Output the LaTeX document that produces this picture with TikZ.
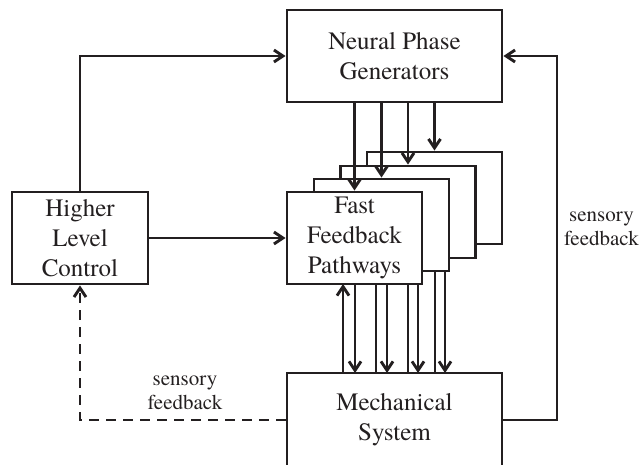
\documentclass[tikz,border=0pt]{standalone}
\usepackage{fontspec}
\setmainfont{TeX Gyre Termes}
\usetikzlibrary{arrows.meta}
\definecolor{ink}{HTML}{231F20}
\begin{document}
\begin{tikzpicture}[x=1pt,y=-1pt,
  line width=2.9pt, draw=ink,
  >={Straight Barb[length=9pt,width=12pt]},
  block/.style={draw=ink, fill=white, line width=2.9pt, inner sep=0pt,
    align=center, text=ink,
    font=\fontsize{25}{30}\selectfont},
  lbl/.style={align=center, text=ink, inner sep=0pt,
    font=\fontsize{21}{24}\selectfont},
  wire/.style={draw=ink, line width=2.9pt}]
\useasboundingbox (0,0) rectangle (641,465);
\clip (0,0) rectangle (641,465);

% main blocks
\node[block, minimum width=215pt, minimum height=92pt] (npg) at (394.5,56)
  {Neural Phase\\Generators};
\node[block, minimum width=136pt, minimum height=92pt] (hlc) at (80,238)
  {Higher\\Level\\Control};
\node[block, minimum width=215pt, minimum height=94pt] (ms) at (394.5,420)
  {Mechanical\\System};

% stacked fast feedback pathways, back to front
\node[block, minimum width=135pt, minimum height=92pt] (ff4) at (434.5,198) {};
\draw[wire] (435,373) -- (435,244);
\draw[wire,->] (445,244) -- (445,373);
\draw[wire,->] (ff4.north |- npg.south) -- (ff4.north);

\node[block, minimum width=135pt, minimum height=92pt] (ff3) at (408,212) {};
\draw[wire] (408,373) -- (408,258);
\draw[wire,->] (418,258) -- (418,373);
\draw[wire,->] (ff3.north |- npg.south) -- (ff3.north);

\node[block, minimum width=135pt, minimum height=92pt] (ff2) at (381.5,225) {};
\draw[wire] (376,373) -- (376,271);
\draw[wire,->] (387,271) -- (387,373);
\draw[wire,->] (ff2.north |- npg.south) -- (ff2.north);

\node[block, minimum width=135pt, minimum height=92pt] (ff1) at (354.5,238)
  {Fast\\Feedback\\Pathways};
\draw[wire,->] (343,373) -- (343,284);
\draw[wire,->] (355,284) -- (355,373);
\draw[wire,->] (ff1.north |- npg.south) -- (ff1.north);

% redraw the mechanical block edge over the wire ends
\node[block, minimum width=215pt, minimum height=94pt, fill=none] at (394.5,420) {};

% control paths
\draw[wire,->] (hlc.north) |- (npg.west);
\draw[wire,->] (hlc.east) -- (ff1.west);

% sensory feedback loops
\coordinate (fbr) at (557,420);
\draw[wire,->] (ms.east) -- (fbr) |- (npg.east);
\draw[wire,->,dash pattern=on 10pt off 7pt] (ms.west) -| (hlc.south);

\node[lbl] (lblr) at (601.5,229) {sensory\\feedback};
\node[lbl] (lbll) at (185,393) {sensory\\feedback};
\end{tikzpicture}
\end{document}
